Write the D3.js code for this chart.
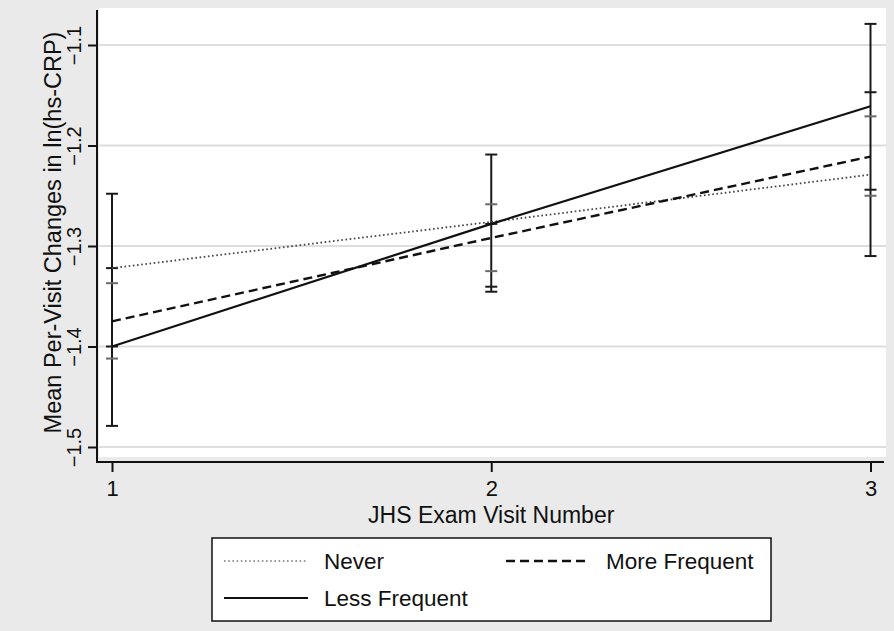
<!DOCTYPE html>
<html>
<head>
<meta charset="utf-8">
<script src="https://cdn.jsdelivr.net/npm/d3@7"></script>
<style>
  body { margin: 0; background: #eaeaea; }
  svg { display: block; font-family: "Liberation Sans", Arial, sans-serif; }
</style>
</head>
<body>
<div id="chart"></div>
<script>
// visit numbers and fitted means per group
const visits = [1, 2, 3];
const neverMean = [-1.322, -1.276, -1.229];
const moreMean = [-1.375, -1.292, -1.211];
const lessMean = [-1.400, -1.278, -1.161];

// confidence limits (lower / upper)
const neverLow = [-1.412, -1.325, -1.250];
const neverHigh = [-1.337, -1.2585, -1.171];
const moreLow = [-1.400, -1.3405, -1.244];
const moreHigh = [-1.322, -1.278, -1.147];
const lessLow = [-1.479, -1.3455, -1.310];
const lessHigh = [-1.248, -1.209, -1.079];

const yTicks = [-1.5, -1.4, -1.3, -1.2, -1.1];
const xTicks = [1, 2, 3];

const W = 894, H = 631;

const svg = d3.select("#chart").append("svg")
    .attr("width", W)
    .attr("height", H);

svg.append("rect").attr("width", W).attr("height", H).attr("fill", "#eaeaea");

// plot region
svg.append("rect")
    .attr("x", 99).attr("y", 8)
    .attr("width", 787).attr("height", 449)
    .attr("fill", "#ffffff");

const x = d3.scaleLinear().domain([1, 3]).range([112, 870.5]);
const y = d3.scaleLinear().domain([-1.5, -1.1]).range([447, 45]);

// grid lines
svg.append("g")
    .selectAll("line")
    .data(yTicks)
    .join("line")
    .attr("x1", 99).attr("x2", 886)
    .attr("y1", d => y(d)).attr("y2", d => y(d))
    .attr("stroke", "#dedede")
    .attr("stroke-width", 2);

// y axis
const yAxis = svg.append("g")
    .attr("transform", "translate(97,0)")
    .call(d3.axisLeft(y).tickValues(yTicks).tickSize(9).tickFormat(d3.format(".1f")));
yAxis.select(".domain").remove();
yAxis.selectAll(".tick line").attr("stroke", "#111").attr("stroke-width", 2);
yAxis.selectAll(".tick text")
    .attr("transform", "rotate(-90)")
    .attr("x", 0)
    .attr("y", -16)
    .attr("dy", 0)
    .attr("text-anchor", "middle")
    .attr("fill", "#111")
    .style("font-size", "20px");
yAxis.append("line")
    .attr("x1", 0).attr("x2", 0)
    .attr("y1", 10).attr("y2", 463)
    .attr("stroke", "#111").attr("stroke-width", 2);

// x axis
const xAxis = svg.append("g")
    .attr("transform", "translate(0,462)")
    .call(d3.axisBottom(x).tickValues(xTicks).tickSize(10).tickFormat(d3.format("d")));
xAxis.select(".domain").remove();
xAxis.selectAll(".tick line").attr("stroke", "#111").attr("stroke-width", 2);
xAxis.selectAll(".tick text")
    .attr("y", 34)
    .attr("dy", 0)
    .attr("fill", "#111")
    .style("font-size", "22px");
xAxis.append("line")
    .attr("x1", 96).attr("x2", 884)
    .attr("y1", 0).attr("y2", 0)
    .attr("stroke", "#111").attr("stroke-width", 2);

// axis titles
svg.append("text")
    .attr("transform", `translate(61,${(8 + 457) / 2}) rotate(-90)`)
    .attr("text-anchor", "middle")
    .attr("fill", "#111")
    .style("font-size", "23.5px")
    .text("Mean Per-Visit Changes in ln(hs-CRP)");

svg.append("text")
    .attr("x", x(2))
    .attr("y", 523)
    .attr("text-anchor", "middle")
    .attr("fill", "#111")
    .style("font-size", "23px")
    .text("JHS Exam Visit Number");

// error bars
const groups = [
    { low: lessLow, high: lessHigh, cap: "#1a1a1a" },
    { low: moreLow, high: moreHigh, cap: "#1a1a1a" },
    { low: neverLow, high: neverHigh, cap: "#6a6a6a" },
];

const bars = svg.append("g");
visits.forEach((v, i) => {
    const lo = d3.min(groups, g => g.low[i]);
    const hi = d3.max(groups, g => g.high[i]);
    bars.append("line")
        .attr("x1", x(v)).attr("x2", x(v))
        .attr("y1", y(lo)).attr("y2", y(hi))
        .attr("stroke", "#1a1a1a").attr("stroke-width", 2);
});
groups.forEach(g => {
    visits.forEach((v, i) => {
        [g.low[i], g.high[i]].forEach(val => {
            bars.append("line")
                .attr("x1", x(v) - 6).attr("x2", x(v) + 6)
                .attr("y1", y(val)).attr("y2", y(val))
                .attr("stroke", g.cap).attr("stroke-width", 2);
        });
    });
});

// series lines
const series = [
    { name: "Never", values: neverMean, dash: "1.6,2.6", width: 1.8, color: "#444" },
    { name: "More Frequent", values: moreMean, dash: "9,5", width: 2.4, color: "#111" },
    { name: "Less Frequent", values: lessMean, dash: null, width: 2.2, color: "#111" },
];

const line = d3.line()
    .x((d, i) => x(visits[i]))
    .y(d => y(d));

svg.append("g")
    .selectAll("path")
    .data(series)
    .join("path")
    .attr("d", d => line(d.values))
    .attr("fill", "none")
    .attr("stroke", d => d.color)
    .attr("stroke-width", d => d.width)
    .attr("stroke-dasharray", d => d.dash);

// legend
const legend = svg.append("g");
legend.append("rect")
    .attr("x", 212).attr("y", 538)
    .attr("width", 559).attr("height", 83)
    .attr("fill", "#fff")
    .attr("stroke", "#111")
    .attr("stroke-width", 1.5);

const legendPos = [
    { sx: 224, tx: 324, cy: 561 },
    { sx: 506, tx: 606, cy: 561 },
    { sx: 224, tx: 324, cy: 598 },
];
series.forEach((s, i) => {
    const p = legendPos[i];
    legend.append("line")
        .attr("x1", p.sx).attr("x2", p.sx + 84)
        .attr("y1", p.cy).attr("y2", p.cy)
        .attr("stroke", i === 0 ? "#777" : s.color)
        .attr("stroke-width", i === 0 ? 1.4 : s.width)
        .attr("stroke-dasharray", s.dash);
    legend.append("text")
        .attr("x", p.tx)
        .attr("y", p.cy + 8)
        .attr("fill", "#111")
        .style("font-size", "22.5px")
        .text(s.name);
});
</script>
</body>
</html>
